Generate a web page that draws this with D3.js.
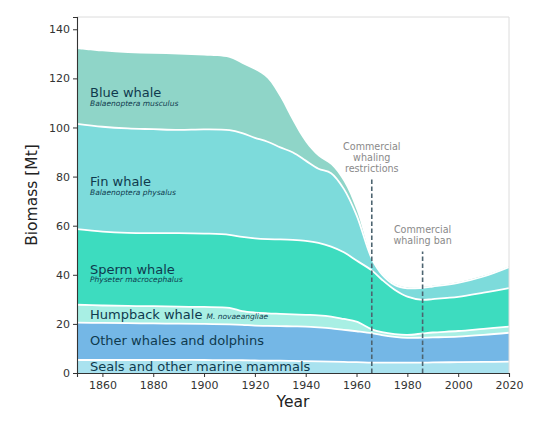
<!DOCTYPE html>
<html>
<head>
<meta charset="utf-8">
<script src="https://cdn.jsdelivr.net/npm/d3@7"></script>
<style>
  body { margin: 0; background: #fff; }
  text { font-family: "DejaVu Sans", sans-serif; }
</style>
</head>
<body>
<div id="plot"></div>
<script>

// years
var years = [1850, 1860, 1870, 1880, 1890, 1900, 1910, 1915, 1920, 1925, 1930, 1935, 1940,
             1945, 1950, 1955, 1960, 1966, 1970, 1975, 1980, 1986, 1990, 2000, 2010, 2020];

// biomass per group in Mt (thickness of each band)
var seals    = [5.3, 5.3, 5.3, 5.3, 5.3, 5.3, 5.2, 5.2, 5.1, 5.0, 5.0, 4.9, 4.8,
                4.7, 4.6, 4.5, 4.4, 4.2, 4.2, 4.2, 4.2, 4.2, 4.3, 4.4, 4.5, 4.6];
var others   = [15.2, 15.1, 15.0, 14.9, 14.8, 14.7, 14.6, 14.4, 14.2, 14.2, 14.1, 14.1, 14.1,
                13.9, 13.6, 13.1, 12.6, 12.0, 11.2, 10.5, 10.1, 10.2, 10.2, 10.4, 11.0, 11.8];
var humpback = [7.3, 7.1, 7.0, 7.0, 6.9, 6.9, 6.7, 5.6, 5.3, 5.1, 5.0, 4.9, 4.8,
                4.9, 4.8, 4.4, 3.9, 1.6, 1.2, 1.1, 1.2, 1.7, 2.0, 2.3, 2.5, 2.5];
var sperm    = [30.8, 30.1, 29.8, 29.8, 30.0, 29.9, 29.8, 30.2, 30.2, 30.2, 30.3, 30.3, 30.1,
                29.5, 28.5, 27.2, 24.9, 24.0, 21.4, 18.1, 15.6, 13.7, 13.6, 13.9, 14.7, 15.7];
var fin      = [42.9, 42.7, 42.5, 42.3, 42.0, 42.4, 42.6, 42.3, 41.0, 39.7, 37.5, 35.6, 32.7,
                30.2, 29.9, 25.8, 18.5, 4.8, 2.2, 2.0, 3.4, 4.9, 5.1, 5.7, 6.6, 8.5];
var blue     = [30.5, 30.7, 30.7, 30.7, 30.7, 30.1, 29.5, 28.3, 27.7, 25.8, 20.4, 12.7, 7.5,
                5.1, 3.4, 3.0, 2.2, 0.4, 0.3, 0.3, 0.3, 0.3, 0.3, 0.3, 0.3, 0.3];

var groups = ['seals', 'others', 'humpback', 'sperm', 'fin', 'blue'];
var colors = ['#a9e2ef', '#74b7e6', '#a8efe4', '#3ddcbf', '#7ddbdb', '#8fd5c8'];

var yTicks = [0, 20, 40, 60, 80, 100, 120, 140];
var xTicks = [1860, 1880, 1900, 1920, 1940, 1960, 1980, 2000, 2020];

// band labels: name, latin name, y value of the baseline
var labelNames = ['Seals and other marine mammals', 'Other whales and dolphins', 'Humpback whale',
                  'Sperm whale', 'Fin whale', 'Blue whale'];
var labelLatin = ['', '', 'M. novaeangliae', 'Physeter macrocephalus', 'Balaenoptera physalus',
                  'Balaenoptera musculus'];
var labelY     = [0.8, 11.3, 22, 40.5, 76, 112.4];

// whaling events
var eventYears = [1966, 1986];
var eventTops  = [79, 49.5];
var eventText  = [['Commercial', 'whaling', 'restrictions'], ['Commercial', 'whaling ban']];

var m = { top: 17, right: 31, bottom: 50, left: 77 };
var W = 540, H = 423;
var w = W - m.left - m.right;
var h = H - m.top - m.bottom;

var rows = years.map(function(y, i) {
  return { year: y, seals: seals[i], others: others[i], humpback: humpback[i],
           sperm: sperm[i], fin: fin[i], blue: blue[i] };
});

var layers = d3.stack().keys(groups)(rows);

var x = d3.scaleLinear().domain([1850, 2020]).range([0, w]);
var y = d3.scaleLinear().domain([0, 145]).range([h, 0]);

var svg = d3.select('#plot').append('svg')
  .attr('width', W)
  .attr('height', H)
  .append('g')
  .attr('transform', 'translate(' + m.left + ',' + m.top + ')');

var curve = d3.curveCatmullRom.alpha(0.5);

var area = d3.area()
  .curve(curve)
  .x(function(d) { return x(d.data.year); })
  .y0(function(d) { return y(d[0]); })
  .y1(function(d) { return y(d[1]); });

var topLine = d3.line()
  .curve(curve)
  .x(function(d) { return x(d.data.year); })
  .y(function(d) { return y(d[1]); });

svg.selectAll('path.band')
  .data(layers)
  .enter().append('path')
  .attr('class', 'band')
  .attr('fill', function(d, i) { return colors[i]; })
  .attr('d', area);

// white separators between the bands
svg.selectAll('path.sep')
  .data(layers.slice(0, layers.length - 1))
  .enter().append('path')
  .attr('class', 'sep')
  .attr('fill', 'none')
  .attr('stroke', '#fff')
  .attr('stroke-width', 1.8)
  .attr('d', topLine);

// light frame on top and right
svg.append('line')
  .attr('x1', 0).attr('x2', w).attr('y1', 0).attr('y2', 0)
  .attr('stroke', '#dcdcdc').attr('stroke-width', 1);
svg.append('line')
  .attr('x1', w).attr('x2', w).attr('y1', 0).attr('y2', h)
  .attr('stroke', '#dcdcdc').attr('stroke-width', 1);

// event lines
eventYears.forEach(function(ey, i) {
  svg.append('line')
    .attr('x1', x(ey)).attr('x2', x(ey))
    .attr('y1', y(0)).attr('y2', y(eventTops[i]))
    .attr('stroke', '#4d6470')
    .attr('stroke-width', 1.6)
    .attr('stroke-dasharray', '4.5,2.5');

  var lines = eventText[i];
  var t = svg.append('text')
    .attr('text-anchor', 'middle')
    .attr('font-size', 9.6)
    .attr('fill', '#8a8a8a');
  lines.forEach(function(s, j) {
    t.append('tspan')
      .attr('x', x(ey))
      .attr('y', y(eventTops[i]) - 7 - (lines.length - 1 - j) * 11)
      .text(s);
  });
});

// band labels
labelNames.forEach(function(name, i) {
  var t = svg.append('text')
    .attr('x', 13)
    .attr('y', y(labelY[i]))
    .attr('font-size', 13)
    .attr('fill', '#0f3a4e')
    .text(name);
  if (labelLatin[i] && name == 'Humpback whale') {
    t.append('tspan')
      .attr('dx', 4)
      .attr('font-size', 7.5)
      .attr('font-style', 'italic')
      .text(labelLatin[i]);
  } else if (labelLatin[i]) {
    svg.append('text')
      .attr('x', 13)
      .attr('y', y(labelY[i]) + 8.5)
      .attr('font-size', 7.5)
      .attr('font-style', 'italic')
      .attr('fill', '#0f3a4e')
      .text(labelLatin[i]);
  }
});

var yaxis = d3.axisLeft(y).tickValues(yTicks).tickSize(4).tickPadding(3);
var xaxis = d3.axisBottom(x).tickValues(xTicks).tickFormat(d3.format('d')).tickSize(4).tickPadding(4);

var gy = svg.append('g').attr('class', 'yaxis').call(yaxis);
var gx = svg.append('g').attr('class', 'xaxis')
  .attr('transform', 'translate(0,' + h + ')')
  .call(xaxis);

[gx, gy].forEach(function(g) {
  g.selectAll('path').attr('stroke', '#333').attr('stroke-width', 1.1);
  g.selectAll('line').attr('stroke', '#333');
  g.selectAll('text').attr('font-size', 11).attr('fill', '#333')
    .attr('font-family', '"DejaVu Sans", sans-serif');
});

svg.append('text')
  .attr('transform', 'translate(' + (-40) + ',' + (h / 2) + ') rotate(-90)')
  .attr('text-anchor', 'middle')
  .attr('font-size', 15.5)
  .attr('fill', '#222')
  .text('Biomass [Mt]');

svg.append('text')
  .attr('x', w / 2)
  .attr('y', h + 34)
  .attr('text-anchor', 'middle')
  .attr('font-size', 15.5)
  .attr('fill', '#222')
  .text('Year');

</script>
</body>
</html>
